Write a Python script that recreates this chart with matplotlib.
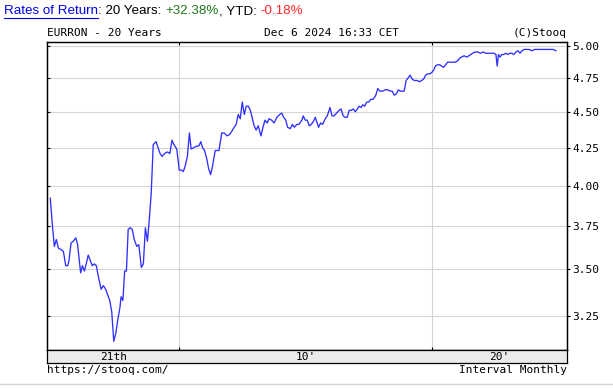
import matplotlib.pyplot as plt
from matplotlib.ticker import FixedLocator, NullLocator, NullFormatter, FuncFormatter
from matplotlib.transforms import blended_transform_factory
from matplotlib.lines import Line2D

# monthly EURRON close (decimal year, rate)
years = [
    2004.90, 2004.98, 2005.06, 2005.14, 2005.22, 2005.35, 2005.42, 2005.51, 2005.59, 2005.64,
    2005.72, 2005.81, 2005.91, 2005.98, 2006.06, 2006.10, 2006.17, 2006.25, 2006.32, 2006.40,
    2006.48, 2006.56, 2006.64, 2006.72, 2006.80, 2006.91, 2007.00, 2007.09, 2007.17, 2007.25,
    2007.33, 2007.41, 2007.49, 2007.57, 2007.65, 2007.70, 2007.77, 2007.84, 2007.91, 2007.98,
    2008.06, 2008.14, 2008.22, 2008.32, 2008.40, 2008.50, 2008.58, 2008.66, 2008.74, 2008.81,
    2008.89, 2008.97, 2009.08, 2009.16, 2009.24, 2009.32, 2009.42, 2009.53, 2009.63, 2009.71,
    2009.79, 2009.90, 2010.00, 2010.08, 2010.16, 2010.24, 2010.32, 2010.40, 2010.47, 2010.58,
    2010.69, 2010.77, 2010.85, 2010.92, 2011.00, 2011.08, 2011.16, 2011.24, 2011.32, 2011.42,
    2011.57, 2011.68, 2011.78, 2011.89, 2011.99, 2012.07, 2012.17, 2012.25, 2012.33, 2012.41,
    2012.49, 2012.57, 2012.65, 2012.73, 2012.81, 2012.89, 2012.96, 2013.04, 2013.12, 2013.23,
    2013.31, 2013.39, 2013.47, 2013.55, 2013.65, 2013.75, 2013.86, 2013.97, 2014.05, 2014.13,
    2014.21, 2014.28, 2014.39, 2014.47, 2014.55, 2014.65, 2014.73, 2014.85, 2014.90, 2014.98,
    2015.06, 2015.14, 2015.22, 2015.30, 2015.38, 2015.43, 2015.51, 2015.59, 2015.67, 2015.77,
    2015.85, 2015.96, 2016.04, 2016.11, 2016.22, 2016.32, 2016.40, 2016.48, 2016.56, 2016.64,
    2016.72, 2016.80, 2016.88, 2016.96, 2017.04, 2017.11, 2017.19, 2017.25, 2017.33, 2017.41,
    2017.49, 2017.57, 2017.67, 2017.77, 2017.85, 2017.93, 2018.04, 2018.14, 2018.25, 2018.34,
    2018.42, 2018.50, 2018.58, 2018.66, 2018.74, 2018.81, 2018.89, 2018.97, 2019.05, 2019.13,
    2019.21, 2019.29, 2019.40, 2019.50, 2019.58, 2019.66, 2019.74, 2019.82, 2019.90, 2019.98,
    2020.06, 2020.13, 2020.21, 2020.29, 2020.37, 2020.45, 2020.53, 2020.61, 2020.69, 2020.79,
    2020.90, 2021.00, 2021.08, 2021.16, 2021.26, 2021.37, 2021.45, 2021.60, 2021.70, 2021.81,
    2021.91, 2022.02, 2022.12, 2022.23, 2022.33, 2022.44, 2022.52, 2022.57, 2022.62, 2022.68,
    2022.75, 2022.83, 2022.91, 2022.99, 2023.07, 2023.15, 2023.23, 2023.31, 2023.39, 2023.47,
    2023.55, 2023.63, 2023.73, 2023.83, 2023.94, 2024.05, 2024.15, 2024.26, 2024.39, 2024.52,
    2024.65, 2024.78, 2024.89,
]
rates = [
    3.92, 3.76, 3.63, 3.67, 3.62, 3.61, 3.60, 3.52, 3.52, 3.55,
    3.65, 3.66, 3.68, 3.64, 3.53, 3.48, 3.52, 3.49, 3.53, 3.58,
    3.55, 3.52, 3.53, 3.52, 3.46, 3.39, 3.41, 3.39, 3.36, 3.33,
    3.27, 3.12, 3.16, 3.23, 3.29, 3.35, 3.33, 3.49, 3.49, 3.73,
    3.74, 3.73, 3.67, 3.63, 3.64, 3.51, 3.53, 3.74, 3.66, 3.78,
    3.95, 4.27, 4.29, 4.25, 4.21, 4.19, 4.21, 4.22, 4.21, 4.30,
    4.27, 4.24, 4.10, 4.10, 4.09, 4.13, 4.19, 4.35, 4.24, 4.25,
    4.26, 4.26, 4.29, 4.25, 4.23, 4.18, 4.11, 4.07, 4.13, 4.23,
    4.23, 4.35, 4.35, 4.33, 4.34, 4.36, 4.39, 4.41, 4.48, 4.45,
    4.57, 4.48, 4.54, 4.54, 4.51, 4.45, 4.40, 4.37, 4.40, 4.33,
    4.39, 4.44, 4.42, 4.45, 4.44, 4.42, 4.46, 4.48, 4.49, 4.46,
    4.44, 4.39, 4.38, 4.41, 4.39, 4.41, 4.41, 4.44, 4.47, 4.44,
    4.44, 4.40, 4.41, 4.43, 4.46, 4.43, 4.39, 4.42, 4.41, 4.45,
    4.47, 4.53, 4.47, 4.47, 4.49, 4.51, 4.52, 4.47, 4.46, 4.46,
    4.51, 4.51, 4.52, 4.50, 4.52, 4.54, 4.53, 4.55, 4.54, 4.57,
    4.57, 4.59, 4.59, 4.62, 4.67, 4.65, 4.65, 4.66, 4.66, 4.65,
    4.65, 4.62, 4.63, 4.66, 4.65, 4.65, 4.65, 4.73, 4.75, 4.77,
    4.74, 4.73, 4.73, 4.72, 4.73, 4.74, 4.77, 4.78, 4.78, 4.79,
    4.81, 4.84, 4.85, 4.85, 4.84, 4.83, 4.85, 4.87, 4.87, 4.87,
    4.87, 4.88, 4.90, 4.91, 4.92, 4.91, 4.92, 4.94, 4.95, 4.95,
    4.94, 4.95, 4.94, 4.94, 4.94, 4.94, 4.93, 4.84, 4.93, 4.91,
    4.93, 4.93, 4.94, 4.93, 4.94, 4.94, 4.93, 4.95, 4.96, 4.94,
    4.96, 4.97, 4.97, 4.97, 4.96, 4.97, 4.97, 4.97, 4.97, 4.97,
    4.97, 4.97, 4.96,
]

y_ticks = [3.25, 3.50, 3.75, 4.00, 4.25, 4.50, 4.75, 5.00]
decade_lines = [2010, 2020]
decade_labels = ["21th", "10'", "20'"]
x_range = (2004.77, 2025.33)
y_range = (3.077, 5.027)

plt.rcParams['font.family'] = 'DejaVu Sans Mono'

W, H = 613, 388
fig = plt.figure(figsize=(W / 100, H / 100), dpi=100, facecolor='white')


def fx(px):
    return px / W


def fy(py):
    return 1 - py / H


# main plot
ax = fig.add_axes([fx(47), fy(350), fx(567) - fx(47), fy(42.3) - fy(350)])
ax.plot(years, rates, color='#2f2fff', lw=0.95)
ax.set_yscale('log')
ax.set_xlim(*x_range)
ax.set_ylim(*y_range)
ax.yaxis.set_major_locator(FixedLocator(y_ticks))
ax.yaxis.set_minor_locator(NullLocator())
ax.yaxis.set_major_formatter(NullFormatter())
ax.yaxis.set_minor_formatter(NullFormatter())
ax.set_xticks(decade_lines)
ax.set_xticklabels([])
ax.grid(True, color='#d6d6d6', lw=0.8)
ax.tick_params(direction='in', length=2.5, width=0.8, top=True, bottom=True,
               left=True, right=False, labelleft=False, labelbottom=False)
for s in ax.spines.values():
    s.set_linewidth(0.9)

# right-hand price scale
rax = ax.twinx()
rax.set_yscale('log')
rax.set_ylim(*y_range)
rax.yaxis.set_major_locator(FixedLocator(y_ticks))
rax.yaxis.set_minor_locator(NullLocator())
rax.yaxis.set_major_formatter(FuncFormatter(lambda v, _: f'{v:.2f}'))
rax.yaxis.set_minor_formatter(NullFormatter())
rax.tick_params(axis='y', direction='out', length=2.5, width=0.8, pad=1.5,
                labelsize=8)
for s in rax.spines.values():
    s.set_linewidth(0.9)

# decade band under the plot
band = fig.add_axes([fx(47), fy(363), fx(567) - fx(47), fy(350) - fy(363)])
band.set_facecolor('#ebebeb')
band.set_xlim(*x_range)
band.set_xticks([])
band.set_yticks([])
for s in band.spines.values():
    s.set_linewidth(0.9)
edges = [x_range[0]] + decade_lines + [x_range[1]]
trans = blended_transform_factory(band.transData, band.transAxes)
for i, lbl in enumerate(decade_labels):
    band.text((edges[i] + edges[i + 1]) / 2, 0.45, lbl, transform=trans,
              ha='center', va='center', fontsize=8)

# header / footer texts
fig.text(fx(47), fy(33), 'EURRON - 20 Years', ha='left', va='center', fontsize=8)
fig.text(fx(264), fy(33), 'Dec 6 2024 16:33 CET', ha='left', va='center', fontsize=8)
fig.text(fx(567), fy(33), '(C)Stooq', ha='right', va='center', fontsize=8)
fig.text(fx(47), fy(370), 'https://stooq.com/', ha='left', va='center', fontsize=8)
fig.text(fx(567), fy(370), 'Interval Monthly', ha='right', va='center', fontsize=8)
fig.add_artist(Line2D([0, 1], [fy(384), fy(384)], color='#d4d4d4', lw=1,
                      transform=fig.transFigure))

# rates of return line, coloured pieces
pieces = [('Rates of Return', '#0000ee'), (': 20 Years: ', 'black'),
          ('+32.38%', '#1f7a1f'), (', YTD: ', 'black'), ('-0.18%', '#ff2a2a')]
renderer = fig.canvas.get_renderer()
x = fx(4)
for i, (s, c) in enumerate(pieces):
    t = fig.text(x, fy(11), s, color=c, family='Liberation Sans', fontsize=9.6,
                 ha='left', va='center')
    bb = t.get_window_extent(renderer)
    if i == 0:
        fig.add_artist(Line2D([bb.x0 / W, bb.x1 / W], [fy(18), fy(18)],
                              color='#0000ee', lw=0.8, transform=fig.transFigure))
    x = bb.x1 / W

fig.savefig('out.png', dpi=100)
